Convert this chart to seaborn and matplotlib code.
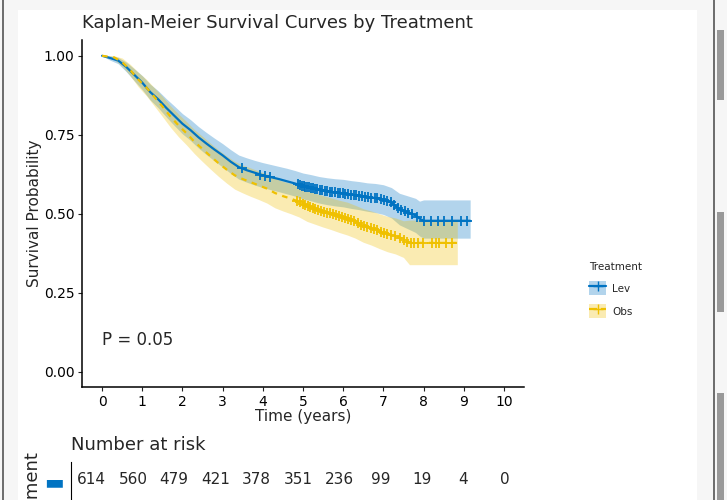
import numpy as np
import pandas as pd
import matplotlib
matplotlib.use('Agg')
import matplotlib.pyplot as plt
from matplotlib.patches import Rectangle, Patch
from matplotlib.lines import Line2D
import seaborn as sb

# ------------------------------------------------------------ data
groups = ['Lev', 'Obs']
cores = {'Lev': '#0073C2', 'Obs': '#EFC000'}

lev_time = [0, 0.2, 0.4, 0.6, 0.8, 1.0, 1.2, 1.4, 1.6, 1.8, 2.0, 2.2, 2.4, 2.6, 2.8, 3.0, 3.2, 3.4, 3.6, 3.8,
            4.0, 4.2, 4.4, 4.6, 4.8, 5.0, 5.2, 5.4, 5.6, 5.8, 6.0, 6.2, 6.4, 6.6, 6.8, 7.0, 7.2, 7.4, 7.6, 7.8,
            7.9, 8.0, 9.16]
lev_surv = [1.0, 0.993, 0.985, 0.965, 0.94, 0.915, 0.885, 0.862, 0.835, 0.81, 0.785, 0.765, 0.742, 0.722, 0.703,
            0.685, 0.665, 0.648, 0.638, 0.63, 0.622, 0.616, 0.61, 0.603, 0.596, 0.588, 0.582, 0.576, 0.571, 0.568,
            0.565, 0.561, 0.557, 0.553, 0.55, 0.545, 0.535, 0.515, 0.505, 0.495, 0.485, 0.478, 0.478]
lev_lower = [1.0, 0.986, 0.975, 0.95, 0.921, 0.893, 0.86, 0.835, 0.806, 0.779, 0.753, 0.732, 0.708, 0.687, 0.667,
             0.648, 0.628, 0.61, 0.6, 0.591, 0.583, 0.576, 0.57, 0.563, 0.556, 0.547, 0.541, 0.534, 0.529, 0.525,
             0.522, 0.517, 0.513, 0.508, 0.504, 0.498, 0.487, 0.465, 0.453, 0.441, 0.43, 0.423, 0.423]
lev_upper = [1.0, 1.0, 0.995, 0.98, 0.959, 0.937, 0.91, 0.889, 0.864, 0.841, 0.817, 0.798, 0.776, 0.757, 0.739,
             0.722, 0.703, 0.686, 0.677, 0.669, 0.662, 0.656, 0.65, 0.644, 0.637, 0.629, 0.624, 0.618, 0.614, 0.611,
             0.609, 0.605, 0.602, 0.598, 0.596, 0.592, 0.583, 0.565, 0.557, 0.549, 0.54, 0.544, 0.544]
lev_censor = [3.48, 3.94, 4.06, 4.18, 4.88, 4.93, 4.97, 5.02, 5.06, 5.1, 5.14, 5.2, 5.25, 5.3, 5.36, 5.42, 5.48,
              5.55, 5.6, 5.66, 5.72, 5.8, 5.86, 5.93, 6.0, 6.05, 6.12, 6.2, 6.26, 6.33, 6.4, 6.48, 6.55, 6.63,
              6.7, 6.78, 6.85, 6.93, 7.02, 7.1, 7.18, 7.26, 7.36, 7.45, 7.55, 7.62, 7.72, 7.84, 8.02, 8.19, 8.35,
              8.51, 8.72, 8.93, 9.09]

obs_time = [0, 0.3, 0.5, 0.7, 0.9, 1.1, 1.3, 1.5, 1.7, 1.9, 2.1, 2.3, 2.5, 2.7, 2.9, 3.1, 3.3, 3.5, 3.7, 3.9,
            4.1, 4.3, 4.5, 4.7, 4.9, 5.1, 5.3, 5.5, 5.7, 5.9, 6.1, 6.3, 6.5, 6.7, 6.9, 7.1, 7.3, 7.5, 7.65, 8.84]
obs_surv = [1.0, 0.995, 0.98, 0.955, 0.925, 0.9, 0.87, 0.84, 0.808, 0.78, 0.755, 0.728, 0.705, 0.682, 0.66,
            0.64, 0.622, 0.61, 0.6, 0.59, 0.58, 0.566, 0.556, 0.548, 0.538, 0.525, 0.516, 0.508, 0.5, 0.492,
            0.485, 0.475, 0.463, 0.455, 0.445, 0.436, 0.43, 0.42, 0.408, 0.408]
obs_lower = [1.0, 0.988, 0.967, 0.937, 0.902, 0.874, 0.841, 0.808, 0.774, 0.744, 0.718, 0.69, 0.665, 0.641, 0.618,
             0.597, 0.578, 0.566, 0.555, 0.545, 0.534, 0.519, 0.509, 0.5, 0.49, 0.476, 0.467, 0.458, 0.45, 0.441,
             0.433, 0.423, 0.41, 0.401, 0.39, 0.38, 0.373, 0.362, 0.339, 0.339]
obs_upper = [1.0, 1.0, 0.993, 0.973, 0.948, 0.926, 0.899, 0.872, 0.842, 0.816, 0.792, 0.766, 0.745, 0.723, 0.702,
             0.683, 0.666, 0.654, 0.645, 0.635, 0.626, 0.613, 0.603, 0.596, 0.586, 0.574, 0.565, 0.558, 0.55, 0.543,
             0.537, 0.527, 0.516, 0.509, 0.5, 0.492, 0.487, 0.478, 0.48, 0.48]
obs_censor = [4.85, 4.92, 5.0, 5.05, 5.12, 5.18, 5.24, 5.3, 5.38, 5.45, 5.52, 5.6, 5.66, 5.74, 5.82, 5.9, 5.97,
              6.05, 6.12, 6.2, 6.28, 6.36, 6.45, 6.52, 6.6, 6.68, 6.76, 6.85, 6.94, 7.02, 7.1, 7.2, 7.3, 7.42,
              7.52, 7.6, 7.69, 7.77, 7.85, 7.98, 8.22, 8.31, 8.39, 8.56, 8.72]

risk_times = [0, 1, 2, 3, 4, 5, 6, 7, 8, 9, 10]
risk_lev = [614, 560, 479, 421, 378, 351, 236, 99, 19, 4, 0]

p_texto = 'P = 0.05'

curvas = {
    'Lev': (lev_time, lev_surv, lev_lower, lev_upper, lev_censor, '-'),
    'Obs': (obs_time, obs_surv, obs_lower, obs_upper, obs_censor, '--'),
}

# ------------------------------------------------------------ figura
sb.set_style('ticks')
plt.rcParams['font.family'] = ['DejaVu Sans']

fig = plt.figure(figsize=(7.27, 5), dpi=100, facecolor='#f6f6f6')

# moldura da captura de tela
fig.patches.append(Rectangle((18 / 727, 0), 679 / 727, 490 / 500, transform=fig.transFigure,
                             facecolor='white', edgecolor='none', zorder=-10))
fig.add_artist(Line2D([2.5 / 727, 2.5 / 727], [0, 1], transform=fig.transFigure, color='#555555', lw=1.2))
fig.add_artist(Line2D([713.5 / 727, 713.5 / 727], [0, 1], transform=fig.transFigure, color='#555555', lw=1.2))
for y0, y1 in [(30, 100), (212, 312), (393, 500)]:
    fig.patches.append(Rectangle((717 / 727, 1 - y1 / 500), 7 / 727, (y1 - y0) / 500, transform=fig.transFigure,
                                 facecolor='#999999', edgecolor='none', zorder=1))

ax = fig.add_axes([82 / 727, 113 / 500, 442 / 727, 347 / 500])
ax.set_facecolor('none')

# faixas de confiança e curvas (ordem: Lev primeiro, Obs por cima)
for g in groups:
    t, s, lo, hi, cens, ls = curvas[g]
    ax.fill_between(t, lo, hi, color=cores[g], alpha=0.3, linewidth=0)
    df = pd.DataFrame({'tempo': t, 'sobrevida': s})
    sb.lineplot(data=df, x='tempo', y='sobrevida', ax=ax, color=cores[g],
                estimator=None, sort=False, linewidth=1.6)
    if ls == '--':
        ax.lines[-1].set_dashes((2.5, 2.5))

# marcas de censura
for g in groups:
    t, s, lo, hi, cens, ls = curvas[g]
    sc = pd.DataFrame({'tempo': cens, 'sobrevida': np.interp(cens, t, s)})
    sb.scatterplot(data=sc, x='tempo', y='sobrevida', ax=ax, marker='+', s=60, color=cores[g],
                   linewidth=1.3, zorder=5)

ax.text(0, 0.1, p_texto, fontsize=12, va='center', ha='left')

ax.set_xlim(-0.5, 10.5)
ax.set_ylim(-0.048, 1.05)
ax.set_xticks(risk_times)
ax.set_yticks([0, 0.25, 0.5, 0.75, 1.0])
ax.set_yticklabels(['0.00', '0.25', '0.50', '0.75', '1.00'])
ax.tick_params(labelsize=10, length=3, width=0.8, pad=2.5, colors='#222222', labelcolor='black')
ax.set_xlabel('Time (years)', fontsize=11, labelpad=0)
ax.set_ylabel('Survival Probability', fontsize=11, labelpad=1)
sb.despine(ax=ax)
for sp in ['left', 'bottom']:
    ax.spines[sp].set_color('black')
    ax.spines[sp].set_linewidth(1.1)

ax.set_title('Kaplan-Meier Survival Curves by Treatment', fontsize=13, loc='left', x=0.0, pad=9)

# legenda
handles = []
for g in groups:
    handles.append((Patch(facecolor=cores[g], alpha=0.3, edgecolor='none'),
                    Line2D([], [], color=cores[g], linestyle='-' if g == 'Lev' else '--', marker='+',
                           markersize=7, lw=1.6)))
leg = fig.legend(handles, groups, loc='upper left', bbox_to_anchor=(580 / 727, 1 - 253 / 500),
                 title='Treatment', fontsize=7.5, title_fontsize=7.5, frameon=False,
                 handlelength=1.6, handleheight=1.7, labelspacing=0.85, handletextpad=0.6)
leg._legend_box.align = 'left'

# ------------------------------------------------------------ tabela de risco (cortada no rodapé)
axr = fig.add_axes([71 / 727, -34 / 500, 454 / 727, 72 / 500])
axr.set_facecolor('none')
linha = pd.DataFrame({'tempo': risk_times, 'n': risk_lev})
for _, r in linha.iterrows():
    axr.text(r['tempo'], 1, str(int(r['n'])), ha='center', va='center', fontsize=11)
axr.set_xlim(-0.5, 10.5)
axr.set_ylim(-0.5, 1.5)
axr.set_xticks([])
axr.set_yticks([1])
axr.set_yticklabels(['▬'], fontsize=15)
axr.get_yticklabels()[0].set_color(cores['Lev'])
axr.tick_params(axis='y', length=0, pad=5)
axr.set_ylabel('Treatment', fontsize=13, labelpad=2)
for sp in ['top', 'right', 'bottom']:
    axr.spines[sp].set_visible(False)
axr.spines['left'].set_color('black')
axr.set_title('Number at risk', fontsize=13, loc='left', pad=9)

fig.savefig('out.png', dpi=100, facecolor=fig.get_facecolor())
